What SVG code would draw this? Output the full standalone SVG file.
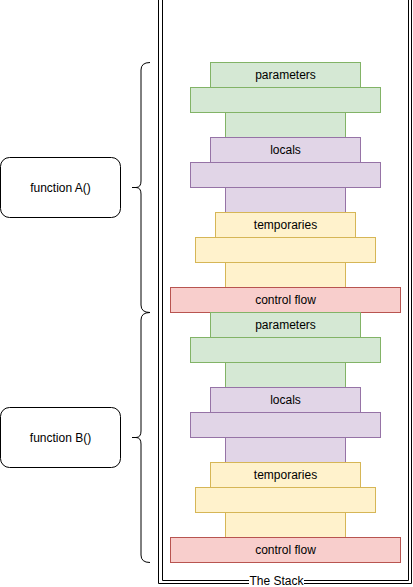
<svg xmlns="http://www.w3.org/2000/svg" width="413" height="587" viewBox="0 0 413 587">
<style>
text{font-family:"Liberation Sans",Arial,sans-serif;font-size:12px;fill:#000;text-anchor:middle;dominant-baseline:central}
.g{fill:#d5e8d4;stroke:#82b366}
.p{fill:#e1d5e7;stroke:#9673a6}
.y{fill:#fff2cc;stroke:#d6b656}
.r{fill:#f8cecc;stroke:#b85450}
.fn{fill:#fff;stroke:#000}
.ln{fill:none;stroke:#000;stroke-width:1}
</style>
<rect width="413" height="587" fill="#fff"/>
<g id="stack">
<path class="ln" d="M158.5,0 V583.5 H411.5 V0"/>
<path class="ln" d="M162.5,0 V580.5 H408.5 V0"/>
<rect x="249" y="574" width="55" height="13" fill="#fff"/>
<text x="276.5" y="580.5">The Stack</text>
</g>
<g id="functionA">
<rect class="fn" x="0.5" y="157.5" width="120" height="60" rx="9"/>
<text x="60.5" y="187.5">function A()</text>
</g>
<g id="functionB">
<rect class="fn" x="0.5" y="407.5" width="120" height="60" rx="9"/>
<text x="60.5" y="437.5">function B()</text>
</g>
<g id="braces">
<path class="ln" d="M150,62.5 Q141,62.5 141,70 V181 Q141,187.5 136,187.5 H132 M136,187.5 Q141,187.5 141,194 V305 Q141,312.5 150,312.5"/>
<path class="ln" d="M150,312.5 Q141,312.5 141,320 V431 Q141,437.5 136,437.5 H132 M136,437.5 Q141,437.5 141,444 V555 Q141,562.5 150,562.5"/>
</g>
<g id="paramsA">
<rect class="g" x="225.5" y="112.5" width="120" height="25"/>
<rect class="g" x="190.5" y="87.5" width="190" height="25"/>
<rect class="g" x="210.5" y="62.5" width="150" height="25"/>
<text x="285.5" y="75">parameters</text>
</g>
<g id="localsA">
<rect class="p" x="225.5" y="187.5" width="120" height="25"/>
<rect class="p" x="190.5" y="162.5" width="190" height="25"/>
<rect class="p" x="210.5" y="137.5" width="150" height="25"/>
<text x="285.5" y="150">locals</text>
</g>
<g id="tempsA">
<rect class="y" x="225.5" y="262.5" width="120" height="25"/>
<rect class="y" x="195.5" y="237.5" width="180" height="25"/>
<rect class="y" x="215.5" y="212.5" width="140" height="25"/>
<text x="285.5" y="225">temporaries</text>
</g>
<g id="controlA">
<rect class="r" x="170.5" y="287.5" width="230" height="25"/>
<text x="285.5" y="300">control flow</text>
</g>
<g id="paramsB">
<rect class="g" x="225.5" y="362.5" width="120" height="25"/>
<rect class="g" x="190.5" y="337.5" width="190" height="25"/>
<rect class="g" x="210.5" y="312.5" width="150" height="25"/>
<text x="285.5" y="325">parameters</text>
</g>
<g id="localsB">
<rect class="p" x="225.5" y="437.5" width="120" height="25"/>
<rect class="p" x="190.5" y="412.5" width="190" height="25"/>
<rect class="p" x="210.5" y="387.5" width="150" height="25"/>
<text x="285.5" y="400">locals</text>
</g>
<g id="tempsB">
<rect class="y" x="225.5" y="512.5" width="120" height="25"/>
<rect class="y" x="195.5" y="487.5" width="180" height="25"/>
<rect class="y" x="210.5" y="462.5" width="150" height="25"/>
<text x="285.5" y="475">temporaries</text>
</g>
<g id="controlB">
<rect class="r" x="170.5" y="537.5" width="230" height="25"/>
<text x="285.5" y="550">control flow</text>
</g>
</svg>
